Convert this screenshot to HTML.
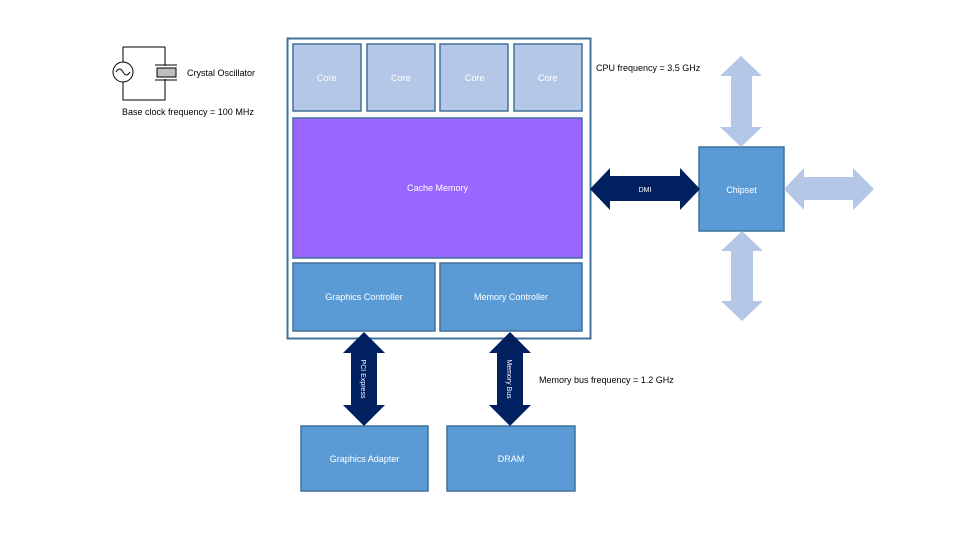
<!DOCTYPE html>
<html><head><meta charset="utf-8"><style>
html,body{margin:0;padding:0;background:#fff;}
svg{display:block;font-family:"Liberation Sans",sans-serif;}
</style></head><body>
<svg width="960" height="540" viewBox="0 0 960 540" xmlns="http://www.w3.org/2000/svg">
<rect width="960" height="540" fill="#fff"/>
<!-- oscillator -->
<g stroke="#000" stroke-width="1" fill="none">
<path d="M123,62 V47 H165 V66 M165,79 V100 H123 V82"/>
<circle cx="123" cy="72" r="10"/>
<path d="M116,72 q3.5,-6 7,0 t7,0"/>
<line x1="155" y1="65" x2="177" y2="65"/>
<line x1="155" y1="80" x2="177" y2="80"/>
</g>
<rect x="157" y="68" width="19" height="9" fill="#bfbfbf" stroke="#000"/>
<text x="187" y="76" font-size="9">Crystal Oscillator</text>
<text x="122" y="115" font-size="9">Base clock frequency = 100 MHz</text>
<!-- CPU -->
<rect x="287.5" y="38.5" width="303" height="300" fill="#fff" stroke="#41719c" stroke-width="2"/>
<g fill="#b4c7e7" stroke="#41719c" stroke-width="1.5">
<rect x="293" y="44" width="68" height="67"/>
<rect x="367" y="44" width="68" height="67"/>
<rect x="440" y="44" width="68" height="67"/>
<rect x="514" y="44" width="68" height="67"/>
</g>
<g font-size="9" fill="#fff">
<text x="317" y="81">Core</text><text x="391" y="81">Core</text><text x="465" y="81">Core</text><text x="538" y="81">Core</text>
</g>
<rect x="293" y="118" width="289" height="140" fill="#9966ff" stroke="#41719c" stroke-width="1.5"/>
<text x="437.5" y="191" font-size="9" fill="#fff" text-anchor="middle">Cache Memory</text>
<g fill="#5b9bd5" stroke="#41719c" stroke-width="1.5">
<rect x="293" y="263" width="142" height="68"/>
<rect x="440" y="263" width="142" height="68"/>
<rect x="699" y="147" width="85" height="84"/>
<rect x="301" y="426" width="127" height="65"/>
<rect x="447" y="426" width="128" height="65"/>
</g>
<g font-size="9" fill="#fff" text-anchor="middle">
<text x="364" y="300">Graphics Controller</text>
<text x="511" y="300">Memory Controller</text>
<text x="741.5" y="193">Chipset</text>
<text x="364.5" y="462">Graphics Adapter</text>
<text x="511" y="462">DRAM</text>
</g>
<text x="596" y="71" font-size="9">CPU frequency = 3.5 GHz</text>
<text x="539" y="383" font-size="9">Memory bus frequency = 1.2 GHz</text>
<!-- light arrows -->
<g fill="#b4c7e7">
<polygon points="741,56 762,76 752,76 752,127 762,127 741,147 720,127 731,127 731,76 720,76"/>
<polygon points="742,231 763,251 753,251 753,301 763,301 742,321 721,301 731,301 731,251 721,251"/>
<polygon points="784,189 804,168 804,177 853,177 853,168 874,189 853,210 853,200 804,200 804,210"/>
</g>
<!-- dark arrows -->
<g fill="#002060">
<polygon points="590,189 610,168 610,176 680,176 680,168 700,189 680,210 680,201 610,201 610,210"/>
<polygon points="364,332 385,353 377,353 377,405 385,405 364,426 343,405 351,405 351,353 343,353"/>
<polygon points="510,332 531,353 523,353 523,405 531,405 510,426 489,405 497,405 497,353 489,353"/>
</g>
<text x="645" y="192" font-size="7" fill="#fff" text-anchor="middle">DMI</text>
<text transform="translate(361,379) rotate(90)" font-size="7" fill="#fff" text-anchor="middle">PCI Express</text>
<text transform="translate(507,379) rotate(90)" font-size="7" fill="#fff" text-anchor="middle">Memory Bus</text>
</svg>
</body></html>
